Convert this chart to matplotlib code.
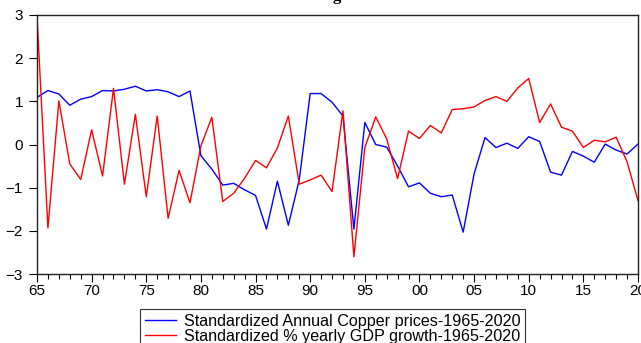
import matplotlib
matplotlib.use("Agg")
import matplotlib.pyplot as plt
from matplotlib.ticker import MultipleLocator, FixedLocator
import numpy as np

years = list(range(1965, 2021))
copper = [1.09, 1.25, 1.17, 0.91, 1.05, 1.11, 1.25, 1.24, 1.28, 1.35,
          1.24, 1.27, 1.22, 1.11, 1.24, -0.26, -0.57, -0.94, -0.90, -1.05,
          -1.18, -1.96, -0.85, -1.87, -0.82, 1.18, 1.18, 0.98, 0.66, -1.96,
          0.51, 0.00, -0.06, -0.50, -0.98, -0.89, -1.13, -1.21, -1.17, -2.03,
          -0.68, 0.16, -0.07, 0.03, -0.09, 0.18, 0.07, -0.64, -0.71, -0.16,
          -0.27, -0.41, 0.01, -0.13, -0.22, 0.01]
gdp = [2.96, -1.93, 1.01, -0.45, -0.81, 0.34, -0.73, 1.30, -0.92, 0.70,
       -1.21, 0.66, -1.71, -0.60, -1.35, -0.03, 0.63, -1.32, -1.13, -0.78,
       -0.37, -0.54, -0.08, 0.66, -0.92, -0.82, -0.71, -1.09, 0.78, -2.60,
       -0.07, 0.64, 0.13, -0.79, 0.31, 0.14, 0.44, 0.27, 0.81, 0.83,
       0.87, 1.02, 1.11, 1.00, 1.31, 1.53, 0.51, 0.94, 0.40, 0.31,
       -0.07, 0.10, 0.06, 0.17, -0.40, -1.30]
xtick_pos = list(range(1965, 2021, 5))
xtick_labels = ["65", "70", "75", "80", "85", "90", "95", "00", "05", "10", "15", "20"]
label_copper = "Standardized Annual Copper prices-1965-2020"
label_gdp = "Standardized % yearly GDP growth-1965-2020"

plt.rcParams['font.family'] = ['Liberation Sans', 'DejaVu Sans']

fig = plt.figure(figsize=(6.41, 3.43), dpi=100)
ax = fig.add_axes([37/641, 1 - 274/343, (638 - 37)/641, (274 - 15)/343])

ax.plot(years, copper, color='#0000ff', lw=1.0, label=label_copper)
ax.plot(years, gdp, color='#ff0000', lw=1.0, label=label_gdp)

ax.set_xlim(1965, 2020)
ax.set_ylim(-3, 3)
ax.xaxis.set_major_locator(FixedLocator(xtick_pos))
ax.set_xticklabels(xtick_labels)
ax.xaxis.set_minor_locator(MultipleLocator(1))
ax.yaxis.set_major_locator(MultipleLocator(1))
ax.tick_params(axis='both', which='major', direction='out', length=6, width=0.8,
               labelsize=11, colors='black', pad=4)
ax.tick_params(axis='x', which='major', pad=1)
ax.tick_params(axis='x', which='minor', direction='out', length=3.5, width=0.8)
for s in ax.spines.values():
    s.set_color('#222222')
    s.set_linewidth(1.0)

fig.text(0.526, 1.0, "g", ha='center', va='baseline', fontsize=12,
         fontweight='bold', family=['Liberation Serif', 'DejaVu Serif'])

leg = fig.legend(loc='upper left', bbox_to_anchor=(140/641, 1 - 309/343),
                 fontsize=11.6, frameon=True, fancybox=False, edgecolor='black',
                 borderpad=0.3, labelspacing=-0.02, handlelength=1.95,
                 handletextpad=0.45, borderaxespad=0)
leg.get_frame().set_linewidth(0.8)

fig.savefig("out.png", dpi=100)
